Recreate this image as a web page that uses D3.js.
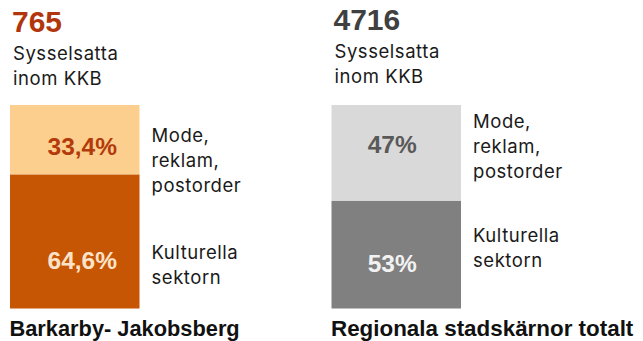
<!DOCTYPE html>
<html>
<head>
<meta charset="utf-8">
<script src="https://cdn.jsdelivr.net/npm/d3@7/dist/d3.min.js"></script>
<style>
  html, body { margin: 0; padding: 0; background: #fff; }
  svg { display: block; }
</style>
</head>
<body>
<svg id="chart" width="643" height="341"></svg>
<script>
// Employment in the cultural and creative industries (KKB)
const regions = ["Barkarby- Jakobsberg", "Regionala stadskärnor totalt"];
const employed = [765, 4716];
const sectorNames = [["Kulturella", "sektorn"], ["Mode,", "reklam,", "postorder"]];
const cultureShare = [64.6, 53];   // Kulturella sektorn, %
const fashionShare = [33.4, 47];   // Mode, reklam, postorder, %

// Styling per region
const theme = [
  { total: "#B1360C", fill: ["#C65504", "#FCCF8F"], label: ["#FCE3C8", "#B33A0B"] },
  { total: "#404040", fill: ["#808080", "#D9D9D9"], label: ["#F2F2F2", "#595959"] }
];
// Hand-tuned placement of the texts around each bar
const layout = [
  { head: [31.5, 60, 85], valueDx: 7.5, valueY: [269, 155], nameY: [259.3, 141.7] },
  { head: [29.5, 57.5, 83], valueDx: -4, valueY: [271.7, 153.3], nameY: [241.7, 128.3] }
];

const svg = d3.select("#chart");
const boldFont = "'Liberation Sans', Arial, sans-serif";
const textFont = "Inter, 'Liberation Sans', sans-serif";

const x = d3.scaleBand().domain(regions).range([10, 461]).paddingInner(0.5972).paddingOuter(0);
const y = d3.scaleLinear().domain([0, 1]).range([308.5, 105]);

const fmt = v => String(v).replace(".", ",") + "%";

regions.forEach((region, i) => {
  const x0 = x(region);
  const bw = x.bandwidth();
  const values = [cultureShare[i], fashionShare[i]];
  const total = d3.sum(values);
  const stack = [];
  let acc = 0;
  values.forEach(v => { stack.push([acc / total, (acc + v) / total]); acc += v; });

  const g = svg.append("g");

  // header: total employed
  g.append("text")
    .attr("x", x0 + 2).attr("y", layout[i].head[0])
    .attr("font-family", boldFont).attr("font-weight", "bold").attr("font-size", 30)
    .attr("fill", theme[i].total)
    .text(employed[i]);
  ["Sysselsatta", "inom KKB"].forEach((t, k) => {
    g.append("text")
      .attr("x", x0 + 3).attr("y", layout[i].head[k + 1])
      .attr("font-family", textFont).attr("font-size", 18.5)
      .attr("letter-spacing", 0.55)
      .attr("fill", "#1a1a1a")
      .text(t);
  });

  // stacked segments
  g.selectAll("rect.seg")
    .data(stack)
    .join("rect")
    .attr("class", "seg")
    .attr("x", x0).attr("width", bw)
    .attr("y", d => y(d[1]))
    .attr("height", d => y(d[0]) - y(d[1]))
    .attr("fill", (d, k) => theme[i].fill[k]);

  // value labels
  values.forEach((v, k) => {
    g.append("text")
      .attr("x", x0 + bw / 2 + layout[i].valueDx)
      .attr("y", layout[i].valueY[k])
      .attr("text-anchor", "middle")
      .attr("font-family", boldFont).attr("font-weight", "bold").attr("font-size", 24.5)
      .attr("fill", theme[i].label[k])
      .text(fmt(v));
  });

  // sector names to the right of the bar
  sectorNames.forEach((lines, k) => {
    lines.forEach((line, j) => {
      g.append("text")
        .attr("x", x0 + bw + 12)
        .attr("y", layout[i].nameY[k] + j * 25)
        .attr("font-family", textFont).attr("font-size", 18.5)
        .attr("letter-spacing", 0.55)
        .attr("fill", "#1a1a1a")
        .text(line);
    });
  });

  // region title
  g.append("text")
    .attr("x", x0 - 0.5).attr("y", 335.5)
    .attr("font-family", boldFont).attr("font-weight", "bold").attr("font-size", i === 0 ? 21.8 : 22.4)
    .attr("fill", "#111")
    .text(region);
});
</script>
</body>
</html>
